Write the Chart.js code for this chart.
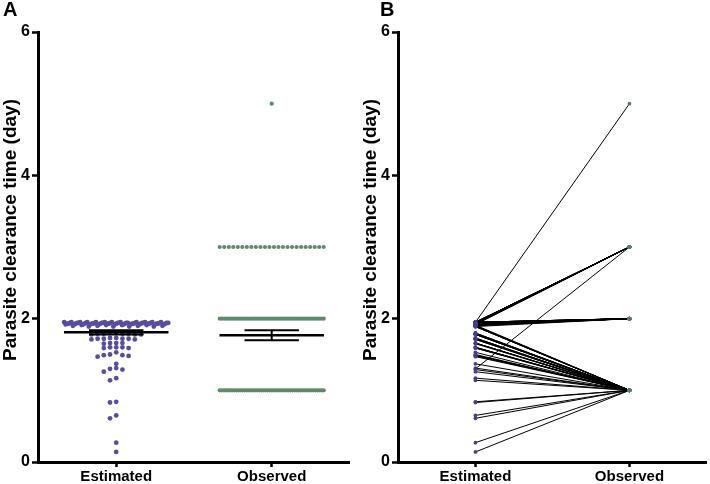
<!DOCTYPE html>
<html><head><meta charset="utf-8">
<script src="https://cdn.jsdelivr.net/npm/chart.js@4.4.1/dist/chart.umd.min.js"></script>
<style>
html,body{margin:0;padding:0;background:#fff;width:710px;height:484px;overflow:hidden}
#wa{position:absolute;left:0;top:0;width:360px;height:484px}
#wb{position:absolute;left:360px;top:0;width:350px;height:484px}
</style></head><body>
<div id="wa"><canvas id="ca" width="360" height="484"></canvas></div>
<div id="wb"><canvas id="cb" width="350" height="484"></canvas></div>
<script>
// ---------- data ----------
const categories = ['Estimated', 'Observed'];
const yTickValues = [0, 2, 4, 6];
const yAxisTitle = 'Parasite clearance time (day)';
const panelLabels = ['A', 'B'];

// estimated parasite clearance time per patient (day)
const estimated = [
  1.95,1.95,1.95,1.94,1.95,1.94,1.94,1.95,1.94,1.93,
  1.95,1.94,1.93,1.94,1.95,1.93,1.94,1.93,1.94,1.95,
  1.93,1.94,1.92,1.93,1.94,1.95,1.93,1.92,1.94,1.93,
  1.95,1.93,1.94,1.92,1.93,1.94,1.92,1.93,1.95,1.94,
  1.93,1.92,1.94,1.93,1.92,1.94,1.93,1.95,1.92,1.93,
  1.94,1.92,1.93,1.94,1.92,1.93,1.92,1.94,1.93,1.92,
  1.93,
  1.91,1.90,1.91,1.89,1.90,1.89,1.91,1.90,1.89,1.90,1.89,1.91,
  1.80,1.79,1.79,1.78,1.80,1.79,1.78,1.79,1.78,
  1.73,1.72,1.72,1.71,1.73,1.72,1.71,1.72,
  1.66,1.66,1.65,1.66,
  1.60,1.59,1.60,1.59,1.60,
  1.53,1.50,1.49,1.49,1.48,1.47,
  1.37,
  1.31,1.30,1.29,1.26,
  1.17,1.14,
  0.84,0.83,
  0.65,0.61,
  0.27,
  0.14
];
// observed parasite clearance time, same patients (paired)
const observed = [
  5,3,2,2,3,2,3,2,2,3,
  2,3,2,2,3,2,3,2,2,3,
  2,3,2,2,3,2,3,2,2,3,
  2,3,2,2,3,2,3,2,2,3,
  2,2,3,2,3,2,2,3,2,2,
  3,2,2,3,2,2,2,3,2,2,
  3,
  2,1,2,1,1,2,1,1,1,2,1,2,
  1,1,1,1,1,1,1,1,1,
  1,1,1,1,1,1,1,1,
  1,1,1,1,
  1,1,1,1,1,
  1,1,1,1,1,1,
  1,
  1,3,1,1,
  1,1,
  1,1,
  1,1,
  1,
  1
];
// mean and SEM bars drawn in panel A
const meanValues = [1.81, 1.77];
const semValues = [0.03, 0.07];

// ---------- styling / layout ----------
const FONT = "'Liberation Sans', Arial, Helvetica, sans-serif";
const X_MIN = 0.497, X_MAX = 2.497;
const PX_PER_X = 311 / (X_MAX - X_MIN);
const EST_COLOR = '#5a4c9e';
const OBS_COLOR = '#5f8a6d';
const EST_COLOR_B = '#463f84';
const OBS_COLOR_B = '#5d7b68';

const gcd = (a, b) => (b ? gcd(b, a % b) : a);

// Prism-like scatter layout: group close values in rows, spread horizontally
function swarm(values, center) {
  const idx = values.map((v, i) => i).sort((a, b) => values[b] - values[a] || a - b);
  const rows = [];
  let cur = null, prev = null;
  for (const i of idx) {
    if (cur && (prev - values[i]) <= 0.045) cur.push(i);
    else { cur = [i]; rows.push(cur); }
    prev = values[i];
  }
  const xs = new Array(values.length);
  const colPx = 6.2, maxW = 104;
  for (const r of rows) {
    const n = r.length;
    if (n * colPx > maxW) {
      // wide row: compress to max width, interleave so the band stays level
      const sp = maxW / (n - 1);
      let stride = Math.floor(n * 0.38) + 1;
      while (gcd(stride, n) !== 1) stride++;
      r.forEach((i, k) => {
        const p = (k * stride) % n;
        xs[i] = center + ((p - (n - 1) / 2) * sp) / PX_PER_X;
      });
    } else {
      r.forEach((i, k) => {
        const j = k === 0 ? 0 : (k % 2 ? -Math.ceil(k / 2) : Math.ceil(k / 2));
        xs[i] = center + (j * colPx) / PX_PER_X;
      });
    }
  }
  return xs;
}

function scales() {
  const tickFont = (s) => ({ family: FONT, size: s, weight: 'bold' });
  return {
    x: {
      type: 'linear', min: X_MIN, max: X_MAX,
      afterBuildTicks: (s) => { s.ticks = categories.map((c, i) => ({ value: i + 1 })); },
      afterFit: (s) => { s.height = 22; },
      ticks: {
        callback: (v) => categories[Math.round(v) - 1] || '',
        font: tickFont(15), color: '#000', padding: 1, maxRotation: 0, autoSkip: false
      },
      grid: { drawOnChartArea: false, drawTicks: true, tickLength: 5, tickWidth: 2.5, tickColor: '#000' },
      border: { display: true, color: '#000', width: 3 }
    },
    y: {
      type: 'linear', min: 0, max: 6,
      afterBuildTicks: (s) => { s.ticks = yTickValues.map((v) => ({ value: v })); },
      afterFit: (s) => { s.width = 38; },
      ticks: { font: tickFont(16), color: '#000', padding: 2 },
      grid: { drawOnChartArea: false, drawTicks: true, tickLength: 6, tickWidth: 2.5, tickColor: '#000' },
      border: { display: true, color: '#000', width: 3 }
    }
  };
}

function textPlugin(letter, letterX) {
  return {
    id: 'panelText',
    afterDraw(chart) {
      const ctx = chart.ctx;
      ctx.save();
      ctx.fillStyle = '#000';
      ctx.font = `bold 20px ${FONT}`;
      ctx.textAlign = 'left';
      ctx.textBaseline = 'alphabetic';
      ctx.fillText(letter, letterX, 16);
      ctx.translate(11, 230);
      ctx.rotate(-Math.PI / 2);
      ctx.font = `bold 19px ${FONT}`;
      ctx.textAlign = 'center';
      ctx.textBaseline = 'middle';
      ctx.fillText(yAxisTitle, 0, 0);
      ctx.restore();
    }
  };
}

const baseOptions = (rightPad) => ({
  responsive: false, animation: false, devicePixelRatio: 1,
  layout: { padding: { top: 32, left: 0, right: rightPad, bottom: 0 } },
  plugins: { legend: { display: false }, tooltip: { enabled: false } },
  scales: scales()
});

const seg = (pts, w) => ({
  data: pts, showLine: true, borderColor: '#000', borderWidth: w,
  pointRadius: 0, order: 0, fill: false
});

// ---------- panel A ----------
const estX = swarm(estimated, 1);
const obsX = swarm(observed, 2);
const dsA = [
  { data: estimated.map((v, i) => ({ x: estX[i], y: v })), pointRadius: 2.4,
    pointBackgroundColor: EST_COLOR, pointBorderWidth: 0, showLine: false, order: 2 },
  { data: observed.map((v, i) => ({ x: obsX[i], y: v })), pointRadius: 2.1,
    pointBackgroundColor: OBS_COLOR, pointBorderWidth: 0, showLine: false, order: 2 }
];
meanValues.forEach((m, c) => {
  const cx = c + 1, s = semValues[c];
  dsA.push(seg([{ x: cx - 0.336, y: m }, { x: cx + 0.336, y: m }], 2.5));
  dsA.push(seg([{ x: cx - 0.175, y: m + s }, { x: cx + 0.175, y: m + s }], 2));
  dsA.push(seg([{ x: cx - 0.175, y: m - s }, { x: cx + 0.175, y: m - s }], 2));
  dsA.push(seg([{ x: cx, y: m - s }, { x: cx, y: m + s }], 2));
});
new Chart(document.getElementById('ca'), {
  type: 'scatter', data: { datasets: dsA },
  options: baseOptions(11), plugins: [textPlugin(panelLabels[0], 3)]
});

// ---------- panel B ----------
const dsB = estimated.map((v, i) => ({
  data: [{ x: 1, y: v }, { x: 2, y: observed[i] }], showLine: true,
  borderColor: '#000', borderWidth: 1, pointRadius: 0, order: 3
}));
dsB.push({ data: estimated.map((v) => ({ x: 1, y: v })), pointRadius: 1.9,
  pointBackgroundColor: EST_COLOR_B, pointBorderWidth: 0, showLine: false, order: 1 });
dsB.push({ data: observed.map((v) => ({ x: 2, y: v })), pointRadius: 1.9,
  pointBackgroundColor: OBS_COLOR_B, pointBorderWidth: 0, showLine: false, order: 1 });
new Chart(document.getElementById('cb'), {
  type: 'scatter', data: { datasets: dsB },
  options: baseOptions(1), plugins: [textPlugin(panelLabels[1], 20)]
});
</script>
</body></html>
